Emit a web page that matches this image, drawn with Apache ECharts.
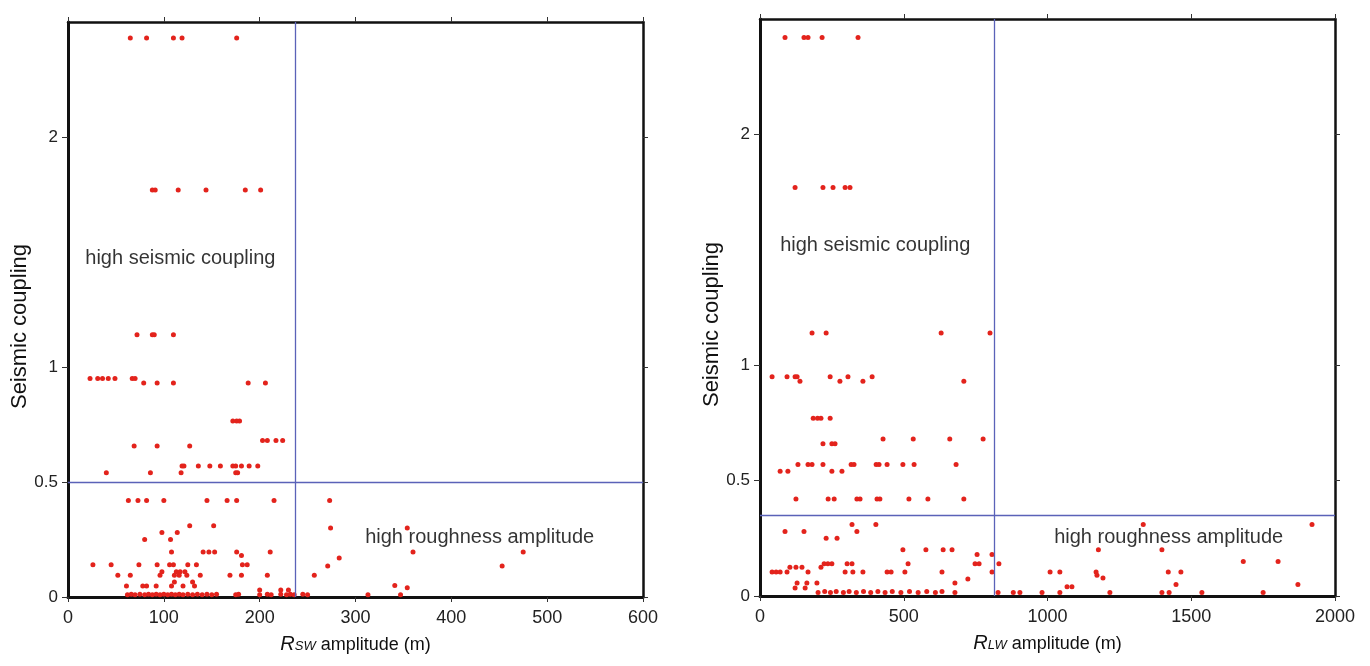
<!DOCTYPE html>
<html>
<head>
<meta charset="utf-8">
<script src="https://cdn.jsdelivr.net/npm/echarts@6.0.0/dist/echarts.min.js"></script>
<style>
  html, body { margin: 0; padding: 0; background: #ffffff; }
  #chart { width: 1370px; height: 666px; }
</style>
</head>
<body>
<div id="chart"></div>
<script>
// ---------------- DATA ----------------
// Left panel: short-wavelength roughness amplitude Rsw (m) vs seismic coupling
const swAmp = [
  65, 82, 110, 119, 176,
  88, 91, 115, 144, 185, 201,
  72, 88, 90, 110,
  23, 31, 36, 42, 49, 67, 70,
  79, 93, 110, 188, 206,
  172, 176, 179,
  203, 208, 217, 224,
  69, 93, 127,
  119, 121, 136, 148, 159, 172, 175, 181, 189, 198,
  40, 86, 118, 175, 177,
  63, 73, 82, 100, 145, 166, 176, 215, 273,
  127, 152, 274, 354,
  98, 114,
  80, 107,
  108, 141, 147, 153, 176, 211, 360, 475,
  181, 283,
  26, 45, 74, 93, 106, 110, 125, 134, 182, 187, 271, 453,
  98, 113, 117, 122,
  52, 65, 96, 111, 116, 124, 138, 169, 181, 208, 257,
  111, 130,
  61, 78, 82, 92, 108, 120, 132, 341, 354,
  62, 66, 70, 75, 80, 84, 88, 92, 96, 100, 104, 108, 112, 116, 120, 125, 130, 135, 140, 145, 150, 155,
  175, 178, 200, 208, 212, 222, 228, 232, 236, 245, 250, 313, 347,
  200, 222, 230
];
const swCoupling = [
  2.43, 2.43, 2.43, 2.43, 2.43,
  1.77, 1.77, 1.77, 1.77, 1.77, 1.77,
  1.14, 1.14, 1.14, 1.14,
  0.95, 0.95, 0.95, 0.95, 0.95, 0.95, 0.95,
  0.93, 0.93, 0.93, 0.93, 0.93,
  0.765, 0.765, 0.765,
  0.68, 0.68, 0.68, 0.68,
  0.657, 0.657, 0.657,
  0.57, 0.57, 0.57, 0.57, 0.57, 0.57, 0.57, 0.57, 0.57, 0.57,
  0.54, 0.54, 0.54, 0.54, 0.54,
  0.42, 0.42, 0.42, 0.42, 0.42, 0.42, 0.42, 0.42, 0.42,
  0.31, 0.31, 0.30, 0.30,
  0.28, 0.28,
  0.25, 0.25,
  0.196, 0.196, 0.196, 0.196, 0.196, 0.196, 0.196, 0.196,
  0.18, 0.17,
  0.14, 0.14, 0.14, 0.14, 0.14, 0.14, 0.14, 0.14, 0.14, 0.14, 0.135, 0.135,
  0.11, 0.11, 0.11, 0.11,
  0.095, 0.095, 0.095, 0.095, 0.095, 0.095, 0.095, 0.095, 0.095, 0.095, 0.095,
  0.065, 0.065,
  0.048, 0.048, 0.048, 0.048, 0.048, 0.048, 0.048, 0.05, 0.04,
  0.01, 0.012, 0.01, 0.012, 0.01, 0.012, 0.01, 0.012, 0.01, 0.012, 0.01, 0.012, 0.01, 0.012, 0.01, 0.012, 0.01, 0.012, 0.01, 0.012, 0.01, 0.012,
  0.01, 0.012, 0.01, 0.012, 0.01, 0.012, 0.01, 0.012, 0.01, 0.012, 0.01, 0.01, 0.01,
  0.03, 0.03, 0.03
];

// Right panel: long-wavelength roughness amplitude Rlw (m) vs seismic coupling
const lwAmp = [
  87, 153, 167, 216, 341,
  122, 219, 254, 296, 313,
  181, 230, 630, 800,
  42, 94, 122, 129, 244, 306, 390,
  139, 278, 358, 709,
  185, 200, 212, 244,
  428, 533, 660, 776,
  219, 250, 261,
  132, 167, 181, 219, 317, 327, 404, 414, 442, 497, 536, 682,
  70, 97, 250, 285,
  125, 237, 258, 337, 348, 407, 417, 518, 584, 709,
  320, 403, 1333, 1920,
  87, 153, 337,
  230, 268,
  497, 577, 637, 668, 1177, 1398,
  755, 807,
  1681, 1802,
  223, 236, 250, 303, 320, 515, 748, 762, 831,
  104, 125, 146, 212,
  42, 56, 70, 94, 167, 296, 323, 358, 442, 456, 504, 633, 807, 1009, 1043, 1169, 1420, 1464,
  1172, 1193, 723,
  129, 163, 198, 678,
  1447, 1871,
  1068, 1085,
  122, 157,
  202, 225, 245, 265, 290, 310, 335, 360, 385, 410, 435, 460, 490, 520, 550, 580, 610, 633, 678,
  828, 881, 904, 981, 1043, 1217, 1398, 1423, 1537, 1750
];
const lwCoupling = [
  2.42, 2.42, 2.42, 2.42, 2.42,
  1.77, 1.77, 1.77, 1.77, 1.77,
  1.14, 1.14, 1.14, 1.14,
  0.95, 0.95, 0.95, 0.95, 0.95, 0.95, 0.95,
  0.93, 0.93, 0.93, 0.93,
  0.77, 0.77, 0.77, 0.77,
  0.68, 0.68, 0.68, 0.68,
  0.66, 0.66, 0.66,
  0.57, 0.57, 0.57, 0.57, 0.57, 0.57, 0.57, 0.57, 0.57, 0.57, 0.57, 0.57,
  0.54, 0.54, 0.54, 0.54,
  0.42, 0.42, 0.42, 0.42, 0.42, 0.42, 0.42, 0.42, 0.42, 0.42,
  0.31, 0.31, 0.31, 0.31,
  0.28, 0.28, 0.28,
  0.25, 0.25,
  0.2, 0.2, 0.2, 0.2, 0.2, 0.2,
  0.18, 0.18,
  0.15, 0.15,
  0.14, 0.14, 0.14, 0.14, 0.14, 0.14, 0.14, 0.14, 0.14,
  0.125, 0.125, 0.125, 0.125,
  0.104, 0.104, 0.104, 0.104, 0.104, 0.104, 0.104, 0.104, 0.104, 0.104, 0.104, 0.104, 0.104, 0.104, 0.104, 0.104, 0.104, 0.104,
  0.09, 0.078, 0.074,
  0.056, 0.056, 0.056, 0.056,
  0.05, 0.05,
  0.04, 0.04,
  0.035, 0.035,
  0.015, 0.02, 0.015, 0.02, 0.015, 0.02, 0.015, 0.02, 0.015, 0.02, 0.015, 0.02, 0.015, 0.02, 0.015, 0.02, 0.015, 0.02, 0.015,
  0.015, 0.015, 0.015, 0.015, 0.015, 0.015, 0.015, 0.015, 0.015, 0.015
];

// Axis ticks and thresholds
const couplingTicks = [0, 0.5, 1, 2];
const swTicks = [0, 100, 200, 300, 400, 500, 600];
const lwTicks = [0, 500, 1000, 1500, 2000];
const swThresholdAmp = 237;
const swThresholdCoupling = 0.5;
const lwThresholdAmp = 814;
const lwThresholdCoupling = 0.35;

// Annotation anchors (data coordinates)
const annoLeft = [
  { value: [18, 1.47], text: 'high seismic coupling' },
  { value: [310, 0.26], text: 'high roughness amplitude' }
];
const annoRight = [
  { value: [70, 1.52], text: 'high seismic coupling' },
  { value: [1023, 0.255], text: 'high roughness amplitude' }
];

// ---------------- CHART ----------------
const FONT = '"Liberation Sans", Arial, Helvetica, sans-serif';
const zip = (a, b) => a.map((v, i) => [v, b[i]]);

function bottomX(grid, ticks, nameRich) {
  return {
    gridIndex: grid, type: 'value', position: 'bottom',
    min: ticks[0], max: ticks[ticks.length - 1], interval: ticks[1] - ticks[0],
    axisLine: { show: true, onZero: false, lineStyle: { color: '#111', width: 3 } },
    axisTick: { show: true, inside: false, length: 5, lineStyle: { color: '#333', width: 1 } },
    axisLabel: { show: true, fontSize: 18, color: '#222', margin: 12, fontFamily: FONT,
      formatter: v => String(v) },
    splitLine: { show: false },
    name: nameRich, nameLocation: 'middle', nameGap: 37,
    nameTextStyle: {
      color: '#111', fontFamily: FONT, fontSize: 18,
      rich: {
        r: { fontStyle: 'italic', fontSize: 20, color: '#111', fontFamily: FONT, verticalAlign: 'bottom' },
        s: { fontStyle: 'italic', fontSize: 13, color: '#111', fontFamily: FONT, verticalAlign: 'bottom', padding: [0, 0, 1, 0] },
        t: { fontSize: 18, color: '#111', fontFamily: FONT, verticalAlign: 'bottom' }
      }
    }
  };
}
function topX(grid, ticks) {
  return {
    gridIndex: grid, type: 'value', position: 'top',
    min: ticks[0], max: ticks[ticks.length - 1], interval: ticks[1] - ticks[0],
    axisLine: { show: true, onZero: false, lineStyle: { color: '#111', width: 2.5 } },
    axisTick: { show: true, inside: false, length: 5, lineStyle: { color: '#333', width: 1 } },
    axisLabel: { show: false },
    splitLine: { show: false }
  };
}
function leftY(grid) {
  return {
    gridIndex: grid, type: 'value', position: 'left', min: 0, max: 2.5,
    axisLine: { show: true, onZero: false, lineStyle: { color: '#111', width: 3 } },
    axisTick: { show: true, inside: false, length: 6, customValues: couplingTicks, lineStyle: { color: '#333', width: 1 } },
    axisLabel: { show: true, customValues: couplingTicks, fontSize: 17, color: '#222', margin: 10, fontFamily: FONT,
      formatter: v => String(v) },
    splitLine: { show: false },
    name: 'Seismic coupling', nameLocation: 'middle', nameGap: 37, nameRotate: 90,
    nameTextStyle: { color: '#111', fontSize: 22, fontFamily: FONT, padding: [0, 34, 0, 0] }
  };
}
function rightY(grid) {
  return {
    gridIndex: grid, type: 'value', position: 'right', min: 0, max: 2.5,
    axisLine: { show: true, onZero: false, lineStyle: { color: '#111', width: 2.5 } },
    axisTick: { show: true, inside: false, length: 5, customValues: couplingTicks, lineStyle: { color: '#333', width: 1 } },
    axisLabel: { show: false },
    splitLine: { show: false }
  };
}

function markLines(xv, yv) {
  return {
    silent: true, symbol: ['none', 'none'], animation: false,
    label: { show: false },
    lineStyle: { color: '#5a62b8', width: 1.3, type: 'solid' },
    data: [{ xAxis: xv }, { yAxis: yv }]
  };
}

function annoSeries(xi, yi, items) {
  return {
    type: 'scatter', xAxisIndex: xi, yAxisIndex: yi, silent: true,
    symbol: 'circle', symbolSize: 0.1, itemStyle: { color: 'rgba(0,0,0,0)' },
    z: 5,
    data: items.map(it => ({ value: it.value, name: it.text })),
    label: {
      show: true, position: 'right', distance: 0, formatter: p => p.name,
      fontSize: 20, color: '#000', fontFamily: FONT, align: 'left', verticalAlign: 'middle'
    }
  };
}

const pointStyle = { color: '#e3231c', opacity: 1 };

const option = {
  backgroundColor: '#ffffff',
  animation: false,
  grid: [
    { left: 68, top: 22, width: 575, height: 575, show: false },
    { left: 760, top: 19, width: 575, height: 577, show: false }
  ],
  xAxis: [
    bottomX(0, swTicks, '{r|R}{s|SW}{t| amplitude (m)}'),
    topX(0, swTicks),
    bottomX(1, lwTicks, '{r|R}{s|LW}{t| amplitude (m)}'),
    topX(1, lwTicks)
  ],
  yAxis: [leftY(0), rightY(0), leftY(1), rightY(1)],
  series: [
    {
      type: 'scatter', xAxisIndex: 0, yAxisIndex: 0, symbolSize: 5,
      itemStyle: pointStyle, data: zip(swAmp, swCoupling),
      markLine: markLines(swThresholdAmp, swThresholdCoupling)
    },
    {
      type: 'scatter', xAxisIndex: 2, yAxisIndex: 2, symbolSize: 5,
      itemStyle: pointStyle, data: zip(lwAmp, lwCoupling),
      markLine: markLines(lwThresholdAmp, lwThresholdCoupling)
    },
    annoSeries(0, 0, annoLeft),
    annoSeries(2, 2, annoRight)
  ]
};

const chart = echarts.init(document.getElementById('chart'), null, { renderer: 'canvas' });
chart.setOption(option);
</script>
</body>
</html>
